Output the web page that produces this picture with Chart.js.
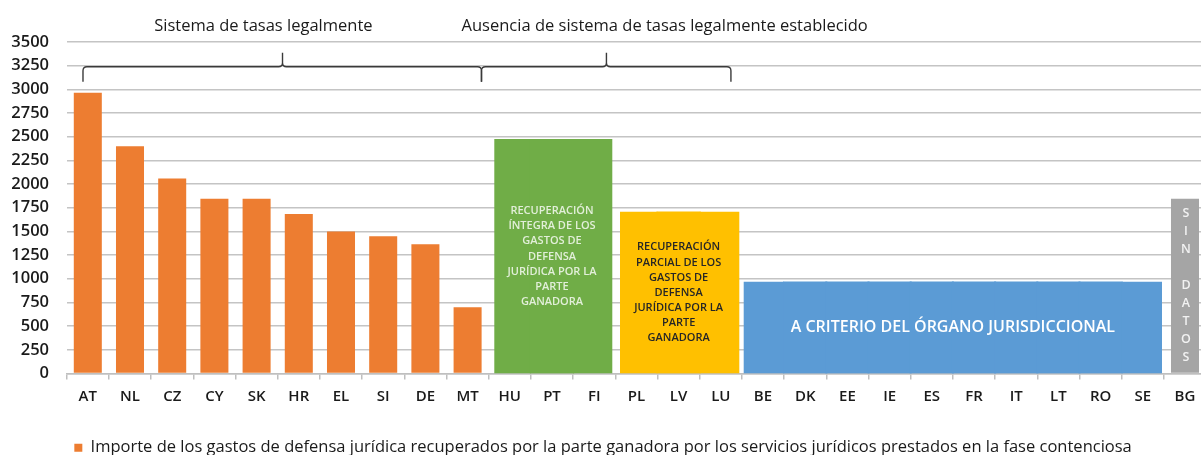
<!DOCTYPE html>
<html lang="es">
<head>
<meta charset="utf-8">
<script src="https://cdn.jsdelivr.net/npm/chart.js@4.4.1/dist/chart.umd.min.js"></script>
<style>
  html, body { margin: 0; padding: 0; background: #fff; overflow: hidden; }
  #wrap { width: 1212px; height: 455px; }
</style>
</head>
<body>
<div id="wrap"><canvas id="grafico"></canvas></div>
<script>
// Datos
const paises = ['AT','NL','CZ','CY','SK','HR','EL','SI','DE','MT','HU','PT','FI','PL','LV','LU',
                'BE','DK','EE','IE','ES','FR','IT','LT','RO','SE','BG'];
const paisesConTasas = ['AT','NL','CZ','CY','SK','HR','EL','SI','DE','MT'];
const importe = [2965, 2400, 2060, 1845, 1845, 1685, 1500, 1450, 1365, 700];

// Cajas de texto (sin sistema de tasas)
const cajaPaises = [
  ['HU','PT','FI'],
  ['PL','LV','LU'],
  ['BE','DK','EE','IE','ES','FR','IT','LT','RO','SE'],
  ['BG']
];
const cajaAlturas = [2465, 1700, 960, 1845];
const cajaTextos = [
  ['RECUPERACIÓN','ÍNTEGRA DE LOS','GASTOS DE','DEFENSA','JURÍDICA POR LA','PARTE','GANADORA'],
  ['RECUPERACIÓN','PARCIAL DE LOS','GASTOS DE','DEFENSA','JURÍDICA POR LA','PARTE','GANADORA'],
  ['A CRITERIO DEL ÓRGANO JURISDICCIONAL'],
  ['S','I','N','','D','A','T','O','S']
];
const etiquetaLeyenda = 'Importe de los gastos de defensa jurídica recuperados por la parte ganadora por los servicios jurídicos prestados en la fase contenciosa';
const tituloTasas = 'Sistema de tasas legalmente';
const tituloSinTasas = 'Ausencia de sistema de tasas legalmente establecido';

const FUENTE = "'Open Sans', 'Noto Sans', sans-serif";
const coloresCaja = ['#70AD47', '#FFC000', '#5B9BD5', '#A5A5A5'];
const coloresTexto = ['#e2efd9', '#262626', '#ffffff', '#f2f2f2'];
const fuentesCaja = ['600 11px ' + FUENTE, '600 11px ' + FUENTE, '600 16px ' + FUENTE, '600 12.5px ' + FUENTE];
const interlineas = [15.1, 15.1, 0, 18];

// valor por país, null si no pertenece
const serieImporte = paises.map(p => {
  const i = paisesConTasas.indexOf(p);
  return i >= 0 ? importe[i] : null;
});
function grupoDe(p) {
  return cajaPaises.findIndex(g => g.includes(p));
}
const serieCajas = paises.map(p => {
  const g = grupoDe(p);
  return g >= 0 && g < 3 ? cajaAlturas[g] : null;
});
const serieSinDatos = paises.map(p => grupoDe(p) === 3 ? cajaAlturas[3] : null);

// huecos blancos entre cajas (izq./der.)
const huecos = { HU: [6.6, 0], FI: [0, 4], PL: [5.7, 0], LU: [0, 3.6], BE: [2.8, 0], SE: [0, 2.9] };

const anotaciones = {
  id: 'anotaciones',
  afterDatasetsDraw(chart) {
    const { ctx, scales: { x } } = chart;
    const top = chart.chartArea.top;

    // textos dentro de las cajas
    cajaPaises.forEach((grupo, g) => {
      const meta = chart.getDatasetMeta(g < 3 ? 1 : 2);
      const e0 = meta.data[paises.indexOf(grupo[0])];
      const e1 = meta.data[paises.indexOf(grupo[grupo.length - 1])];
      const cx = (e0.x - e0.width / 2 + e1.x + e1.width / 2) / 2;
      const cy = (e0.y + e0.base) / 2;
      const lineas = cajaTextos[g];
      ctx.save();
      ctx.font = fuentesCaja[g];
      ctx.fillStyle = coloresTexto[g];
      ctx.textAlign = 'center';
      ctx.textBaseline = 'middle';
      const h = interlineas[g];
      lineas.forEach((t, i) => {
        ctx.fillText(t, g === 3 ? e0.x + 1 : cx, cy + (i - (lineas.length - 1) / 2) * h);
      });
      ctx.restore();
    });

    // llaves
    const yh = top + 24.7, ypico = top + 10.7, ybajo = top + 39.7, r = 4;
    function llave(v0, vm, v1) {
      const x0 = x.getPixelForValue(v0), xm = x.getPixelForValue(vm), x1 = x.getPixelForValue(v1);
      ctx.beginPath();
      ctx.moveTo(x0, ybajo);
      ctx.lineTo(x0, yh + r);
      ctx.quadraticCurveTo(x0, yh, x0 + r, yh);
      ctx.lineTo(xm - r, yh);
      ctx.quadraticCurveTo(xm, yh, xm, yh - r);
      ctx.lineTo(xm, ypico);
      ctx.moveTo(xm, yh - r);
      ctx.quadraticCurveTo(xm, yh, xm + r, yh);
      ctx.lineTo(x1 - r, yh);
      ctx.quadraticCurveTo(x1, yh, x1, yh + r);
      ctx.lineTo(x1, ybajo);
      ctx.stroke();
    }
    ctx.save();
    ctx.strokeStyle = '#3a3a3a';
    ctx.lineWidth = 1.4;
    llave(-0.114, 4.614, 9.329);
    llave(9.329, 12.29, 15.24);

    // títulos de grupo
    ctx.font = '16.5px ' + FUENTE;
    ctx.fillStyle = '#1a1a1a';
    ctx.textAlign = 'center';
    ctx.textBaseline = 'middle';
    ctx.fillText(tituloTasas, x.getPixelForValue(4.16), 26);
    ctx.fillText(tituloSinTasas, x.getPixelForValue(13.67), 26);
    ctx.restore();
  }
};

new Chart(document.getElementById('grafico'), {
  type: 'bar',
  data: {
    labels: paises,
    datasets: [
      {
        label: etiquetaLeyenda,
        data: serieImporte,
        backgroundColor: '#ED7D31',
        barPercentage: 0.664,
        categoryPercentage: 1,
        grouped: false
      },
      {
        label: 'cajas',
        data: serieCajas,
        backgroundColor: ctx => coloresCaja[grupoDe(paises[ctx.dataIndex])] || '#000',
        borderColor: 'rgba(255,255,255,0)',
        borderSkipped: false,
        borderWidth: ctx => {
          const h = huecos[paises[ctx.dataIndex]];
          return h ? { top: 0.01, bottom: 0.01, left: h[0], right: h[1] } : 0;
        },
        inflateAmount: 1,
        barPercentage: 1,
        categoryPercentage: 1,
        grouped: false
      },
      {
        label: 'sin datos',
        data: serieSinDatos,
        backgroundColor: '#A5A5A5',
        barPercentage: 0.664,
        categoryPercentage: 1,
        grouped: false
      }
    ]
  },
  options: {
    responsive: true,
    maintainAspectRatio: false,
    animation: false,
    layout: { padding: { top: 42, left: 0, right: 5.9, bottom: -11 } },
    plugins: {
      tooltip: { enabled: false },
      legend: {
        position: 'bottom',
        labels: {
          filter: item => item.datasetIndex === 0,
          boxWidth: 8,
          boxHeight: 8,
          padding: 2,
          color: '#1a1a1a',
          font: { family: FUENTE, size: 16.5 }
        }
      }
    },
    scales: {
      x: {
        grid: { drawOnChartArea: false, drawTicks: true, tickLength: 6, color: '#bfbfbf', lineWidth: 1.5 },
        border: { color: '#bfbfbf', width: 1.5 },
        ticks: {
          autoSkip: false, maxRotation: 0, padding: 8,
          color: '#1a1a1a',
          font: { family: FUENTE, size: 15, weight: '600' }
        },
        afterFit: s => { s.height = 64; }
      },
      y: {
        min: 0, max: 3500,
        grid: { drawTicks: false, color: '#c4c4c4', lineWidth: 1.5 },
        border: { display: false },
        ticks: {
          stepSize: 250, padding: 17.7,
          color: '#1a1a1a',
          font: { family: FUENTE, size: 16.5, weight: '600' },
          callback: v => String(v)
        },
        afterFit: s => { s.width = 66.7; }
      }
    }
  },
  plugins: [anotaciones]
});
</script>
</body>
</html>
